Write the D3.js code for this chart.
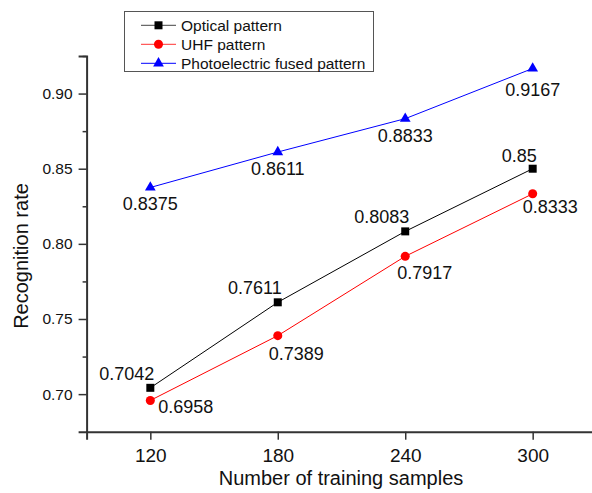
<!DOCTYPE html>
<html>
<head>
<meta charset="utf-8">
<script src="https://cdn.jsdelivr.net/npm/d3@7"></script>
<style>
  html, body { margin: 0; padding: 0; background: #fff; }
  svg { display: block; font-family: "Liberation Sans", Arial, sans-serif; }
</style>
</head>
<body>
<svg id="chart" width="592" height="493"></svg>
<script>
// ---- data ----
const samples = [120, 180, 240, 300];
const opticalRates = [0.7042, 0.7611, 0.8083, 0.85];
const uhfRates = [0.6958, 0.7389, 0.7917, 0.8333];
const fusedRates = [0.8375, 0.8611, 0.8833, 0.9167];
const opticalLabels = ["0.7042", "0.7611", "0.8083", "0.85"];
const uhfLabels = ["0.6958", "0.7389", "0.7917", "0.8333"];
const fusedLabels = ["0.8375", "0.8611", "0.8833", "0.9167"];
const seriesNames = ["Optical pattern", "UHF pattern", "Photoelectric fused pattern"];
const yTickValues = [0.70, 0.75, 0.80, 0.85, 0.90];
const yMinorTickValues = [0.725, 0.775, 0.825, 0.875, 0.925];
const xTitle = "Number of training samples";
const yTitle = "Recognition rate";

// ---- styles (not data) ----
const styles = [
  { color: "#000000", legendLine: "#444444", symbol: d3.symbolSquare, size: 64,
    offsets: [[4, -8, "end"], [4, -8, "end"], [4, -8, "end"], [4, -7, "end"]] },
  { color: "#ff0000", legendLine: "#ff3333", symbol: d3.symbolCircle, size: 64,
    offsets: [[8, 12.5, "start"], [-9, 24, "start"], [-8, 23, "start"], [-10, 19, "start"]] },
  { color: "#0000ff", legendLine: "#0000ff", symbol: d3.symbolTriangle, size: 50,
    offsets: [[0, 23, "middle"], [0, 23, "middle"], [0, 23, "middle"], [0, 28, "middle"]] }
];

const series = [
  { name: seriesNames[0], values: opticalRates, labels: opticalLabels },
  { name: seriesNames[1], values: uhfRates, labels: uhfLabels },
  { name: seriesNames[2], values: fusedRates, labels: fusedLabels }
];

const svg = d3.select("#chart");
const mLeft = 86.6, mRight = 596.4, mTop = 56, mBottom = 431.7;

const x = d3.scaleLinear().domain([90, 330]).range([mLeft, mRight]);
const y = d3.scaleLinear().domain([0.675, 0.925]).range([mBottom, mTop]);

const axisColor = "#333333";

// Y axis
const yAxis = svg.append("g").attr("transform", `translate(${mLeft},0)`)
  .call(d3.axisLeft(y).tickValues(yTickValues).tickFormat(d3.format(".2f")).tickSizeOuter(0).tickSize(8).tickPadding(6));
yAxis.select(".domain").attr("stroke", axisColor).attr("stroke-width", 2);
yAxis.selectAll(".tick line").attr("stroke", axisColor).attr("stroke-width", 1.5);
yAxis.selectAll(".tick text").attr("font-size", "15.5px").attr("fill", "#111")
  .attr("font-family", "Liberation Sans, Arial, sans-serif");

const yMinor = svg.append("g").attr("transform", `translate(${mLeft},0)`)
  .call(d3.axisLeft(y).tickValues(yMinorTickValues).tickFormat("").tickSize(4).tickSizeOuter(0));
yMinor.select(".domain").remove();
yMinor.selectAll(".tick line").attr("stroke", axisColor).attr("stroke-width", 1.5);

// X axis
const xAxis = svg.append("g").attr("transform", `translate(0,${mBottom})`)
  .call(d3.axisBottom(x).tickValues(samples).tickFormat(d3.format("d")).tickSizeOuter(0).tickSize(8).tickPadding(8.5));
xAxis.select(".domain").attr("stroke", axisColor).attr("stroke-width", 2);
xAxis.selectAll(".tick line").attr("stroke", axisColor).attr("stroke-width", 1.5);
xAxis.selectAll(".tick text").attr("font-size", "19px").attr("fill", "#111")
  .attr("font-family", "Liberation Sans, Arial, sans-serif");

// Axis titles
svg.append("text").attr("x", 341).attr("y", 484.5).attr("text-anchor", "middle")
  .attr("font-size", "20px").attr("fill", "#111").text(xTitle);
svg.append("text").attr("transform", "translate(28,256) rotate(-90)").attr("text-anchor", "middle")
  .attr("font-size", "20px").attr("fill", "#111").text(yTitle);

// Series
const line = d3.line().x((d, i) => x(samples[i])).y(d => y(d));
series.forEach((s, si) => {
  const st = styles[si];
  const g = svg.append("g");
  g.append("path").datum(s.values).attr("d", line).attr("fill", "none")
    .attr("stroke", st.color).attr("stroke-width", 1);
  g.selectAll("path.m").data(s.values).enter().append("path").attr("class", "m")
    .attr("transform", (d, i) => `translate(${x(samples[i])},${y(d)})`)
    .attr("d", d3.symbol().type(st.symbol).size(st.size)).attr("fill", st.color);
  g.selectAll("text").data(s.values).enter().append("text")
    .attr("x", (d, i) => x(samples[i]) + st.offsets[i][0])
    .attr("y", (d, i) => y(d) + st.offsets[i][1])
    .attr("text-anchor", (d, i) => st.offsets[i][2])
    .attr("font-size", "18px").attr("fill", "#111")
    .text((d, i) => s.labels[i]);
});

// Legend
const lg = svg.append("g");
lg.append("rect").attr("x", 124.5).attr("y", 11.5).attr("width", 249).attr("height", 60)
  .attr("fill", "#fff").attr("stroke", "#555").attr("stroke-width", 1);
series.forEach((s, si) => {
  const st = styles[si];
  const cy = 25.3 + si * 19;
  lg.append("line").attr("x1", 141).attr("x2", 176).attr("y1", cy).attr("y2", cy)
    .attr("stroke", st.legendLine).attr("stroke-width", 1);
  lg.append("path").attr("transform", `translate(158.5,${cy})`)
    .attr("d", d3.symbol().type(st.symbol).size(st.size)).attr("fill", st.color);
  lg.append("text").attr("x", 181).attr("y", cy).attr("dy", "0.35em")
    .attr("font-size", "15.5px").attr("fill", "#111").text(s.name);
});
</script>
</body>
</html>
